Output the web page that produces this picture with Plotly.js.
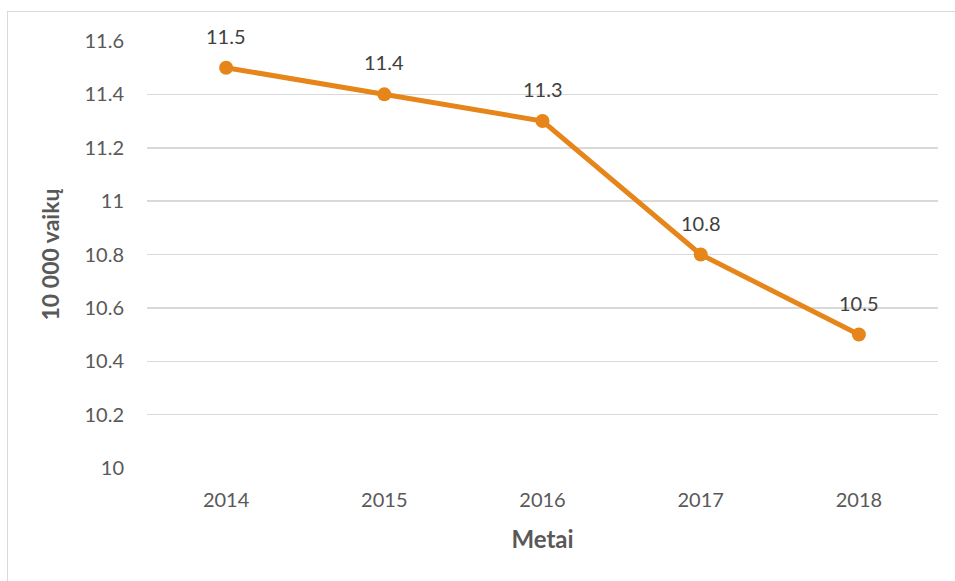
<!DOCTYPE html>
<html>
<head>
<meta charset="utf-8">
<script src="https://cdn.plot.ly/plotly-3.0.1.min.js"></script>
<style>
html,body{margin:0;padding:0;background:#fff;}
#wrap{position:relative;width:955px;height:581px;overflow:hidden;}
#chart{width:955px;height:581px;}
#frame{position:absolute;left:7px;top:11px;width:1000px;height:1000px;border:1.5px solid #d9d9d9;pointer-events:none;}
</style>
</head>
<body>
<div id="wrap"><div id="chart"></div><div id="frame"></div></div>
<script>
const years = ['2014', '2015', '2016', '2017', '2018'];
const values = [11.5, 11.4, 11.3, 10.8, 10.5];
const valueLabels = ['11.5', '11.4', '11.3', '10.8', '10.5'];
const yTicks = [10, 10.2, 10.4, 10.6, 10.8, 11, 11.2, 11.4, 11.6];
const yTickLabels = ['10', '10.2', '10.4', '10.6', '10.8', '11', '11.2', '11.4', '11.6'];

const fontFam = 'Lato, "Open Sans", sans-serif';
const grey = '#595959';
const orange = '#E6851A';

const trace = {
  x: years, y: values, type: 'scatter', mode: 'lines+markers',
  line: {color: orange, width: 5},
  marker: {color: orange, size: 14},
  hoverinfo: 'skip'
};

const annotations = years.map((yr, i) => ({
  x: i, y: values[i], xref: 'x', yref: 'y', text: valueLabels[i],
  showarrow: false, yshift: 32, font: {family: fontFam, size: 20, color: '#404040'}
}));

const layout = {
  width: 955, height: 581,
  margin: {l: 147, r: 17, t: 41, b: 113},
  paper_bgcolor: '#fff', plot_bgcolor: '#fff',
  showlegend: false,
  xaxis: {
    type: 'category', range: [-0.5, 4.5], showgrid: false, zeroline: false,
    showline: false, ticks: '', ticklabelstandoff: 18,
    tickfont: {family: fontFam, size: 20, color: grey},
    title: {text: 'Metai', standoff: 21, font: {family: fontFam, size: 24, color: grey, weight: 'bold'}}
  },
  yaxis: {
    range: [10, 11.6], tickvals: yTicks, ticktext: yTickLabels,
    showgrid: true, gridcolor: '#d9d9d9', gridwidth: 1.5, zeroline: false,
    showline: false, ticks: '', ticklabelstandoff: 22,
    tickfont: {family: fontFam, size: 20, color: grey},
    title: {text: '10 000 vaikų', standoff: 18, font: {family: fontFam, size: 23, color: grey, weight: 'bold'}}
  },
  annotations: annotations
};

Plotly.newPlot('chart', [trace], layout, {displayModeBar: false, staticPlot: true});
</script>
</body>
</html>
